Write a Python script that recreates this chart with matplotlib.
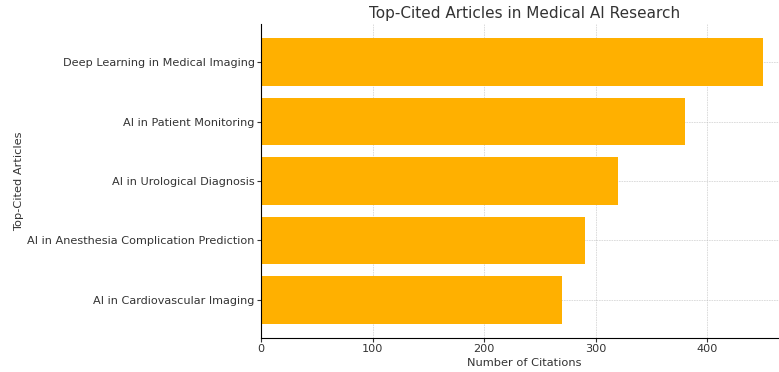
import matplotlib.pyplot as plt
import numpy as np

articles = ["AI in Cardiovascular Imaging",
            "AI in Anesthesia Complication Prediction",
            "AI in Urological Diagnosis",
            "AI in Patient Monitoring",
            "Deep Learning in Medical Imaging"]
citations = [270, 290, 320, 380, 450]

fig = plt.figure(figsize=(7.79, 3.72), dpi=100)
ax = fig.add_axes([0.335, 0.0914, 0.677, 0.8441])

ax.barh(articles, citations, height=0.8, color="#FFB000", zorder=2)
# light dashed grid drawn over the bars
ax.grid(True, color="#b0b0b0", alpha=0.5, linestyle=(0, (2, 1)), linewidth=0.6, zorder=3)
ax.set_xlim(0, 472.5)
ax.spines["top"].set_visible(False)
ax.spines["right"].set_visible(False)
ax.tick_params(labelsize=8.15, colors="#333333", length=3, pad=1.5)

ax.set_title("Top-Cited Articles in Medical AI Research", fontsize=11, color="#333333", pad=4)
ax.set_xlabel("Number of Citations", fontsize=8.2, color="#333333", labelpad=2.5)
ax.set_ylabel("Top-Cited Articles", fontsize=8.2, color="#333333", labelpad=2)

fig.savefig("out.png", dpi=100)
